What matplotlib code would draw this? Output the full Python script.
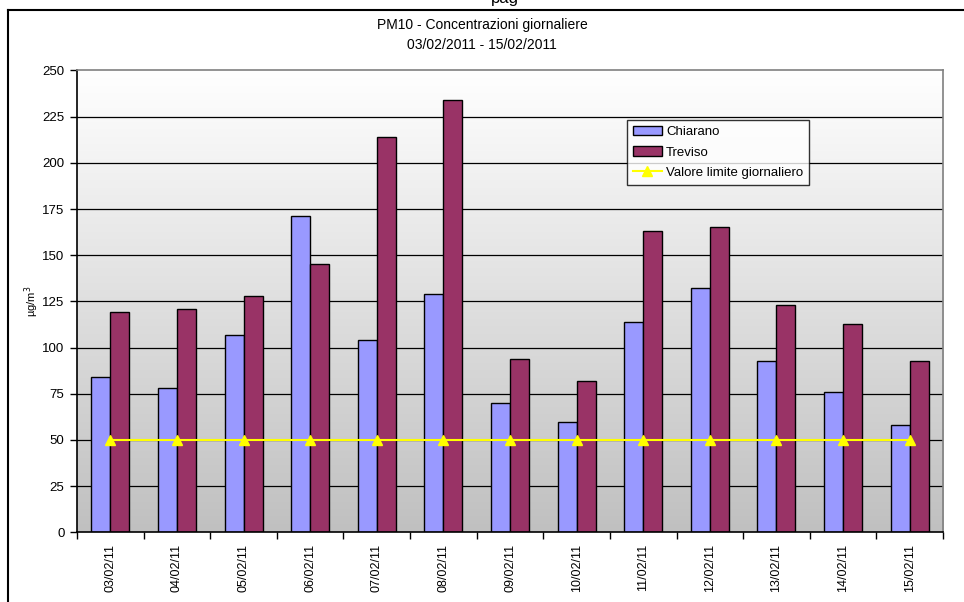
import numpy as np
import matplotlib
matplotlib.use("Agg")
import matplotlib.pyplot as plt
from matplotlib.lines import Line2D
from matplotlib.colors import LinearSegmentedColormap

plt.rcParams['font.family'] = ['Liberation Sans', 'DejaVu Sans']

dates = ["03/02/11", "04/02/11", "05/02/11", "06/02/11", "07/02/11", "08/02/11",
         "09/02/11", "10/02/11", "11/02/11", "12/02/11", "13/02/11", "14/02/11", "15/02/11"]
chiarano = [84, 78, 107, 171, 104, 129, 70, 60, 114, 132, 93, 76, 58]
treviso = [119, 121, 128, 145, 214, 234, 94, 82, 163, 165, 123, 113, 93]
limite = [50] * len(dates)
yticks = [0, 25, 50, 75, 100, 125, 150, 175, 200, 225, 250]

fig = plt.figure(figsize=(9.64, 6.02), dpi=100)
ax = fig.add_axes([77/964, 1-532.4/602, (943-77)/964, (532.4-70.4)/602])

x = np.arange(len(dates))
w = 0.285

# gradient background
grad = np.linspace(0, 1, 256).reshape(-1, 1)
cmap = LinearSegmentedColormap.from_list("bg", ["#c0c0c0", "#ffffff"])
ax.imshow(grad, aspect='auto', cmap=cmap, origin='lower',
          extent=[-0.5, len(dates)-0.5, 0, 250], zorder=0)

for yv in yticks[1:-1]:
    ax.axhline(yv, color='black', lw=0.9, zorder=1)

b1 = ax.bar(x - w/2, chiarano, width=w, color='#9999FF', edgecolor='black', lw=1.0,
            zorder=2, label='Chiarano')
b2 = ax.bar(x + w/2, treviso, width=w, color='#993366', edgecolor='black', lw=1.0,
            zorder=2, label='Treviso')
l1, = ax.plot(x, limite, color='#FFFF00', lw=1.5, marker='^', markersize=7,
              markerfacecolor='#FFFF00', markeredgecolor='#FFFF00', zorder=3,
              label='Valore limite giornaliero')

ax.set_xlim(-0.5, len(dates)-0.5)
ax.set_ylim(0, 250)
ax.set_yticks(yticks)
ax.set_yticklabels([str(v) for v in yticks], fontsize=9.5)
ax.set_xticks(x)
ax.set_xticklabels(dates, rotation=90, fontsize=9)
ax.tick_params(axis='x', which='major', length=0, pad=8)
ax.set_xticks(np.arange(-0.5, len(dates)), minor=True)
ax.tick_params(axis='x', which='minor', length=5, width=1, direction='out')
ax.tick_params(axis='y', length=5, width=1, direction='out', pad=4)

for s in ['top', 'right']:
    ax.spines[s].set_color('#808080')
    ax.spines[s].set_linewidth(1.2)
for s in ['left', 'bottom']:
    ax.spines[s].set_color('black')
    ax.spines[s].set_linewidth(1.2)

ax.set_ylabel('µg/m$^3$', fontsize=8, labelpad=1)

leg = fig.legend([b1, b2, l1], ['Chiarano', 'Treviso', 'Valore limite giornaliero'],
                 loc='upper left', bbox_to_anchor=(627/964, 1-120/602),
                 borderaxespad=0, fontsize=9.5, frameon=True, fancybox=False,
                 edgecolor='black', handlelength=2.2, handleheight=0.7,
                 labelspacing=0.62, handletextpad=0.3, borderpad=0.45)
leg.get_frame().set_linewidth(1.0)

fig.text(0.5, 1-25/602, 'PM10 - Concentrazioni giornaliere', ha='center', va='center', fontsize=10)
fig.text(0.5, 1-45/602, '03/02/2011 - 15/02/2011', ha='center', va='center', fontsize=10)
fig.text(505/964, 1-3/602, 'pag', ha='center', va='baseline', fontsize=12)

# outer frame
fig.add_artist(Line2D([8/964, 1], [1-10/602, 1-10/602], color='black', lw=1.5,
                      transform=fig.transFigure))
fig.add_artist(Line2D([8/964, 8/964], [0, 1-10/602], color='black', lw=1.5,
                      transform=fig.transFigure))

fig.savefig('out.png', dpi=100)
